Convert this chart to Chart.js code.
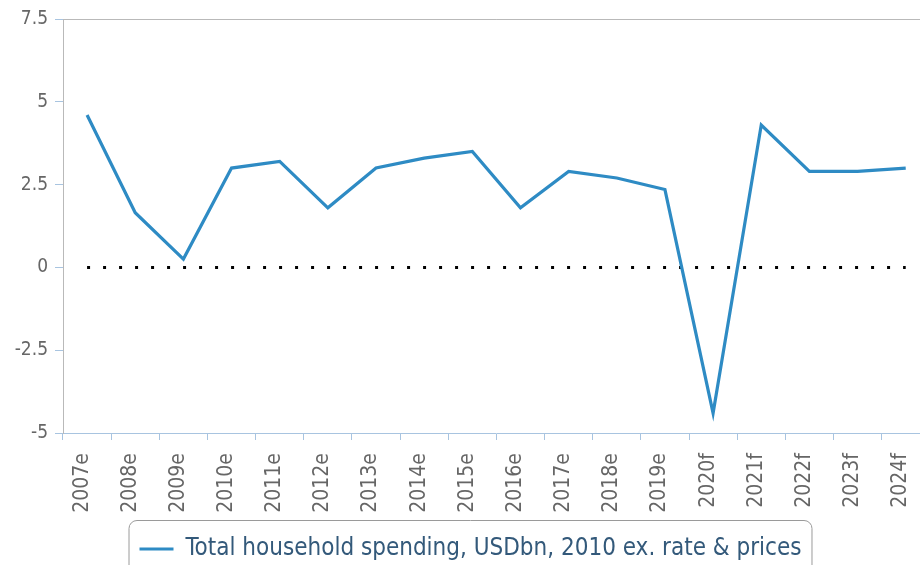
<!DOCTYPE html>
<html>
<head>
<meta charset="utf-8">
<script src="https://cdn.jsdelivr.net/npm/chart.js@4/dist/chart.umd.min.js"></script>
<style>
  html, body { margin: 0; padding: 0; background: #fff; overflow: hidden; }
  #wrap { position: absolute; left: 0; top: 0; width: 944px; height: 571px; }
</style>
</head>
<body>
<div id="wrap"><canvas id="myChart"></canvas></div>
<script>
// data
const years = ['2007e','2008e','2009e','2010e','2011e','2012e','2013e','2014e','2015e',
               '2016e','2017e','2018e','2019e','2020f','2021f','2022f','2023f','2024f'];
const spending = [4.6, 1.65, 0.25, 3.0, 3.2, 1.8, 3.0, 3.3, 3.5,
                  1.8, 2.9, 2.7, 2.35, -4.4, 4.3, 2.9, 2.9, 3.0];
const zeroLine = years.map(() => 0);
const yTicks = [-5, -2.5, 0, 2.5, 5, 7.5];
const seriesName = 'Total household spending, USDbn, 2010 ex. rate & prices';

const blue = '#2e8bc4';
const axisBlue = '#a8c4e0';
const axisGrey = '#b9b9b9';
const labelGrey = '#666';
const font = 'DejaVu Sans Condensed';

// rounded frame around the legend entry
const legendFrame = {
    id: 'legendFrame',
    afterDraw(chart) {
        const box = chart.legend.legendHitBoxes[0];
        if (!box) return;
        const ctx = chart.ctx;
        const x = box.left - 11, y = box.top - 17;
        const w = box.width + 21, h = box.height + 60;
        ctx.save();
        ctx.strokeStyle = '#9a9a9a';
        ctx.lineWidth = 1;
        ctx.beginPath();
        ctx.roundRect(x + 0.5, y + 0.5, w, h, 8);
        ctx.stroke();
        ctx.restore();
    }
};

const ctx = document.getElementById('myChart').getContext('2d');
const chart = new Chart(ctx, {
    type: 'line',
    data: {
        labels: years,
        datasets: [{
            label: seriesName,
            data: spending,
            borderColor: blue,
            backgroundColor: blue,
            borderWidth: 3.2,
            pointRadius: 0,
            tension: 0
        }, {
            label: 'zero',
            data: zeroLine,
            borderColor: '#000',
            borderWidth: 3,
            borderDash: [3, 13],
            pointRadius: 0
        }]
    },
    options: {
        responsive: true,
        maintainAspectRatio: false,
        animation: false,
        layout: { padding: { top: 19, right: 3, bottom: 0, left: 0 } },
        plugins: {
            tooltip: { enabled: false },
            legend: {
                position: 'bottom',
                labels: {
                    filter: item => item.datasetIndex === 0,
                    usePointStyle: true,
                    pointStyle: 'line',
                    pointStyleWidth: 34,
                    color: '#33597a',
                    font: { family: font, size: 24 },
                    padding: 16
                }
            }
        },
        scales: {
            x: {
                offset: true,
                grid: {
                    offset: true,
                    drawOnChartArea: false,
                    color: axisBlue,
                    tickLength: 7
                },
                border: { color: axisBlue, width: 1 },
                ticks: {
                    minRotation: 90,
                    maxRotation: 90,
                    autoSkip: false,
                    padding: 13,
                    labelOffset: -5,
                    color: labelGrey,
                    font: { family: font, size: 21 }
                },
                afterFit: scale => { scale.height = 88; }
            },
            y: {
                min: -5,
                max: 7.5,
                afterBuildTicks: scale => { scale.ticks = yTicks.map(v => ({ value: v })); },
                grid: {
                    color: c => (c.tick && c.tick.value === 7.5) ? axisGrey : 'transparent',
                    tickColor: axisBlue,
                    tickLength: 8
                },
                border: { color: axisGrey, width: 1 },
                ticks: {
                    padding: 7,
                    color: labelGrey,
                    font: { family: font, size: 19 }
                },
                afterFit: scale => { scale.width = 63; }
            }
        }
    },
    plugins: [legendFrame]
});
</script>
</body>
</html>
